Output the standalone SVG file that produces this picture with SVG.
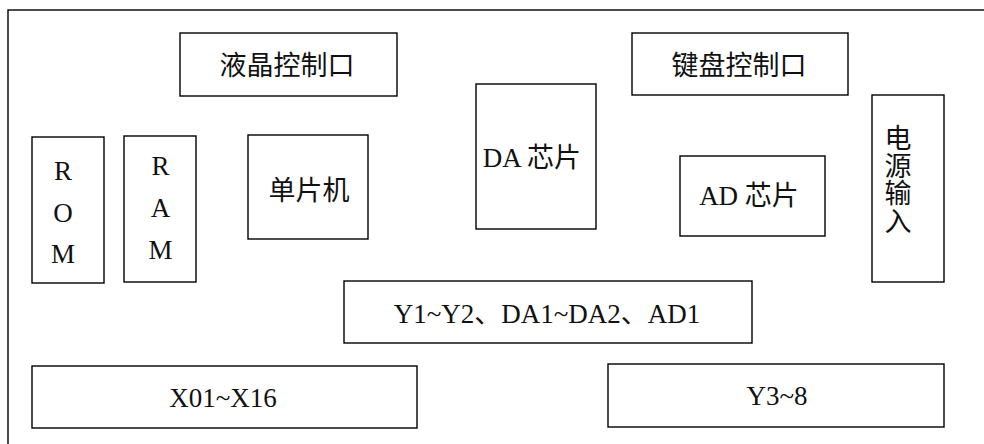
<svg xmlns="http://www.w3.org/2000/svg" width="984" height="444" viewBox="0 0 984 444">
<style>
.box{fill:#fff;stroke:#000;stroke-width:1.4}
.frame{fill:none;stroke:#000;stroke-width:1.4}
text{font-family:"Liberation Serif","Noto Sans CJK SC",serif;font-size:27px;fill:#111;text-anchor:middle}
</style>
<rect width="984" height="444" fill="#fff"/>
<rect class="frame" x="8" y="10" width="990" height="450"/>
<g id="lcd-port"><rect class="box" x="180" y="33" width="217" height="63"/><text x="287" y="75">液晶控制口</text></g>
<g id="keyboard-port"><rect class="box" x="632" y="33" width="216" height="62"/><text x="739" y="74.5">键盘控制口</text></g>
<g id="rom"><rect class="box" x="32" y="137" width="72" height="146"/><text x="63" y="180">R</text><text x="63" y="222">O</text><text x="63" y="263">M</text></g>
<g id="ram"><rect class="box" x="124" y="136" width="72" height="146"/><text x="160.5" y="175">R</text><text x="160.5" y="217">A</text><text x="160.5" y="259">M</text></g>
<g id="mcu"><rect class="box" x="248" y="135" width="120" height="104"/><text x="309" y="200">单片机</text></g>
<g id="da-chip"><rect class="box" x="476" y="84" width="120" height="145"/><text x="532" y="167">DA 芯片</text></g>
<g id="ad-chip"><rect class="box" x="680" y="156" width="145" height="80"/><text x="749" y="205">AD 芯片</text></g>
<g id="power-input"><rect class="box" x="872" y="95" width="72" height="187"/><text x="898" y="148">电</text><text x="898" y="175.7">源</text><text x="898" y="203.4">输</text><text x="898" y="231">入</text></g>
<g id="outputs-y1"><rect class="box" x="344" y="281" width="408" height="62"/><text x="547" y="323.3">Y1~Y2、DA1~DA2、AD1</text></g>
<g id="inputs-x"><rect class="box" x="32" y="366" width="385" height="62"/><text x="223" y="407.3">X01~X16</text></g>
<g id="outputs-y3"><rect class="box" x="608" y="364" width="336" height="63"/><text x="777" y="405">Y3~8</text></g>
<g id="connectors"></g>
</svg>
